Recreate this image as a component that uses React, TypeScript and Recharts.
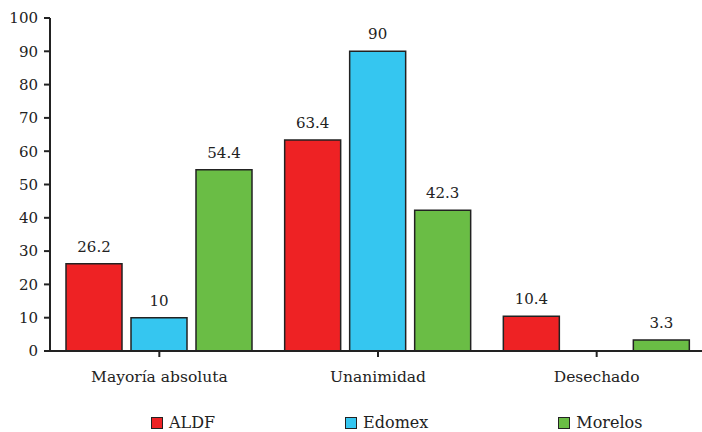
import { BarChart, Bar, XAxis, YAxis, Legend, LabelList } from "recharts";

const categorias = ["Mayoría absoluta", "Unanimidad", "Desechado"];
const aldf = [26.2, 63.4, 10.4];
const edomex = [10, 90, 0];
const morelos = [54.4, 42.3, 3.3];
const ticksY = [0, 10, 20, 30, 40, 50, 60, 70, 80, 90, 100];

const series = [
  { key: "ALDF", color: "#ee2224" },
  { key: "Edomex", color: "#35c6f0" },
  { key: "Morelos", color: "#6abd45" },
];

const datos = categorias.map((c, i) => ({
  cat: c,
  ALDF: aldf[i],
  Edomex: edomex[i] || null,
  Morelos: morelos[i],
}));

const FONT = "'DejaVu Serif', serif";

function Leyenda() {
  return (
    <div
      style={{
        height: 41,
        display: "flex",
        alignItems: "flex-end",
        paddingLeft: 151,
        gap: 130,
        fontFamily: FONT,
        fontSize: 16,
        color: "#222",
        boxSizing: "border-box",
      }}
    >
      {series.map((s) => (
        <div key={s.key} style={{ display: "flex", alignItems: "center", gap: 6 }}>
          <span
            style={{
              width: 10,
              height: 10,
              background: s.color,
              border: "1.5px solid #222",
              display: "inline-block",
            }}
          />
          <span>{s.key}</span>
        </div>
      ))}
    </div>
  );
}

export default function App() {
  return (
    <div style={{ position: "absolute", left: 0, top: 0, width: 702, height: 432, background: "#fff" }}>
      <BarChart
        width={706}
        height={432}
        data={datos}
        margin={{ top: 18, right: 0, left: 0, bottom: 0 }}
        barCategoryGap={16}
        barGap={9}
      >
        <XAxis
          dataKey="cat"
          tick={{ fill: "#222", fontSize: 15.5, fontFamily: FONT }}
          axisLine={{ stroke: "#222", strokeWidth: 2 }}
          tickLine={{ stroke: "#222", strokeWidth: 2 }}
          tickSize={6}
          tickMargin={14}
          height={40}
        />
        <YAxis
          domain={[0, 100]}
          ticks={ticksY}
          interval={0}
          tick={{ fill: "#222", fontSize: 15, fontFamily: FONT }}
          axisLine={{ stroke: "#222", strokeWidth: 2 }}
          tickLine={{ stroke: "#222", strokeWidth: 2 }}
          tickSize={6}
          tickMargin={6}
          width={50}
        />
        <Legend verticalAlign="bottom" content={() => <Leyenda />} />
        {series.map((s) => (
          <Bar
            key={s.key}
            dataKey={s.key}
            fill={s.color}
            stroke="#222"
            strokeWidth={1.5}
            isAnimationActive={false}
          >
            <LabelList
              dataKey={s.key}
              position="top"
              offset={12}
              style={{ fill: "#222", fontSize: 15, fontFamily: FONT }}
            />
          </Bar>
        ))}
      </BarChart>
    </div>
  );
}
